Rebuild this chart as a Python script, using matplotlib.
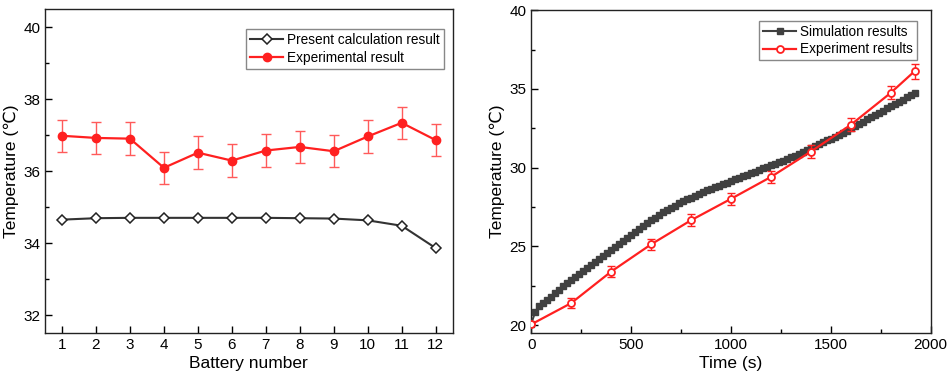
import matplotlib
matplotlib.use('Agg')
import matplotlib.pyplot as plt
from matplotlib.ticker import MultipleLocator

plt.rcParams['font.family'] = ['Liberation Sans', 'DejaVu Sans']

# left panel: battery temperatures
battery_no = [1, 2, 3, 4, 5, 6, 7, 8, 9, 10, 11, 12]
calc_temp = [34.65, 34.69, 34.70, 34.70, 34.70, 34.70, 34.70, 34.69, 34.68, 34.63, 34.48, 33.86]
exp_temp = [36.98, 36.92, 36.90, 36.09, 36.51, 36.29, 36.57, 36.67, 36.55, 36.96, 37.34, 36.86]
exp_err = [0.45, 0.45, 0.45, 0.45, 0.45, 0.45, 0.45, 0.45, 0.45, 0.45, 0.45, 0.45]

# right panel: temperature vs time
sim_time = [0, 20, 40, 60, 80, 100, 120, 140, 160, 180, 200, 220, 240, 260, 280,
            300, 320, 340, 360, 380, 400, 420, 440, 460, 480, 500, 520, 540, 560, 580,
            600, 620, 640, 660, 680, 700, 720, 740, 760, 780, 800, 820, 840, 860, 880,
            900, 920, 940, 960, 980, 1000, 1020, 1040, 1060, 1080, 1100, 1120, 1140,
            1160, 1180, 1200, 1220, 1240, 1260, 1280, 1300, 1320, 1340, 1360, 1380,
            1400, 1420, 1440, 1460, 1480, 1500, 1520, 1540, 1560, 1580, 1600, 1620,
            1640, 1660, 1680, 1700, 1720, 1740, 1760, 1780, 1800, 1820, 1840, 1860,
            1880, 1900, 1920]
sim_temp = [20.10, 20.85, 21.20, 21.42, 21.60, 21.80, 22.02, 22.25, 22.47, 22.67,
            22.85, 23.05, 23.25, 23.45, 23.65, 23.85, 24.03, 24.21, 24.39, 24.57,
            24.75, 24.95, 25.15, 25.34, 25.52, 25.70, 25.90, 26.10, 26.29, 26.47,
            26.65, 26.83, 27.01, 27.17, 27.31, 27.45, 27.59, 27.73, 27.86, 27.98,
            28.10, 28.22, 28.34, 28.46, 28.56, 28.65, 28.75, 28.85, 28.95, 29.05,
            29.15, 29.25, 29.35, 29.45, 29.55, 29.65, 29.75, 29.85, 29.95, 30.05,
            30.15, 30.25, 30.35, 30.45, 30.55, 30.65, 30.77, 30.89, 31.01, 31.13,
            31.25, 31.37, 31.49, 31.61, 31.73, 31.85, 31.97, 32.09, 32.22, 32.36,
            32.50, 32.64, 32.78, 32.92, 33.06, 33.20, 33.34, 33.48, 33.62, 33.76,
            33.90, 34.04, 34.18, 34.32, 34.46, 34.60, 34.72]
exp_time = [0, 200, 400, 600, 800, 1000, 1200, 1400, 1600, 1800, 1920]
exp_temp2 = [20.05, 21.40, 23.40, 25.13, 26.66, 28.02, 29.41, 31.02, 32.72, 34.75, 36.13]
exp_err2 = [0.05, 0.30, 0.35, 0.35, 0.38, 0.38, 0.40, 0.40, 0.42, 0.42, 0.47]

red = '#ff2020'
dark = '#404040'

fig = plt.figure(figsize=(9.48, 3.78), dpi=100)
ax1 = fig.add_axes([0.0475, 0.119, 0.430, 0.857])
ax2 = fig.add_axes([0.5604, 0.119, 0.4213, 0.854])

# ---- left
ax1.plot(battery_no, calc_temp, color='#333333', lw=1.5, marker='D', markersize=5,
         markerfacecolor='white', markeredgecolor='#222222', markeredgewidth=1.1,
         label='Present calculation result', zorder=3)
ax1.errorbar(battery_no, exp_temp, yerr=exp_err, fmt='none', ecolor='#ff5a5a',
             elinewidth=1.0, capsize=3.5, capthick=1.0, zorder=2)
ax1.plot(battery_no, exp_temp, color=red, lw=1.6, marker='o', markersize=6,
         label='Experimental result', zorder=3)
ax1.set_xlim(0.5, 12.5)
ax1.set_ylim(31.5, 40.5)
ax1.set_xticks(battery_no)
ax1.yaxis.set_major_locator(MultipleLocator(2))
ax1.yaxis.set_minor_locator(MultipleLocator(1))
ax1.set_xlabel('Battery number', fontsize=12.5, labelpad=3)
ax1.set_ylabel('Temperature (℃)', fontsize=12.5, labelpad=3)

# ---- right
ax2.plot(sim_time, sim_temp, color=dark, lw=1.5, marker='s', markersize=5,
         markeredgecolor=dark, markerfacecolor=dark, label='Simulation results', zorder=3)
ax2.errorbar(exp_time, exp_temp2, yerr=exp_err2, fmt='none', ecolor=red,
             elinewidth=1.0, capsize=3, capthick=1.0, zorder=4)
ax2.plot(exp_time, exp_temp2, color=red, lw=1.6, marker='o', markersize=5,
         markerfacecolor='white', markeredgecolor=red, markeredgewidth=1.3,
         label='Experiment results', zorder=4)
ax2.set_xlim(0, 2000)
ax2.set_ylim(19.5, 40)
ax2.xaxis.set_major_locator(MultipleLocator(500))
ax2.xaxis.set_minor_locator(MultipleLocator(250))
ax2.yaxis.set_major_locator(MultipleLocator(5))
ax2.yaxis.set_minor_locator(MultipleLocator(2.5))
ax2.set_xlabel('Time (s)', fontsize=12.5, labelpad=3)
ax2.set_ylabel('Temperature (℃)', fontsize=12.5, labelpad=3)

for ax in (ax1, ax2):
    ax.tick_params(which='both', direction='in', top=False, right=False, labelsize=11)
    ax.tick_params(which='major', length=5, width=1)
    ax.tick_params(which='minor', length=3, width=1)
    for s in ax.spines.values():
        s.set_linewidth(1.0)
        s.set_color('#222222')

leg1 = ax1.legend(loc='upper right', bbox_to_anchor=(0.978, 0.938), fontsize=9.8,
                  fancybox=False, edgecolor='#888888', framealpha=1,
                  handlelength=2.4, borderpad=0.3, labelspacing=0.25,
                  handletextpad=0.3, borderaxespad=0)
leg2 = ax2.legend(loc='upper right', bbox_to_anchor=(0.966, 0.967), fontsize=9.8,
                  fancybox=False, edgecolor='#888888', framealpha=1,
                  handlelength=2.4, borderpad=0.3, labelspacing=0.25,
                  handletextpad=0.3, borderaxespad=0)
for leg in (leg1, leg2):
    leg.get_frame().set_linewidth(1.0)

fig.savefig('out.png', dpi=100)
